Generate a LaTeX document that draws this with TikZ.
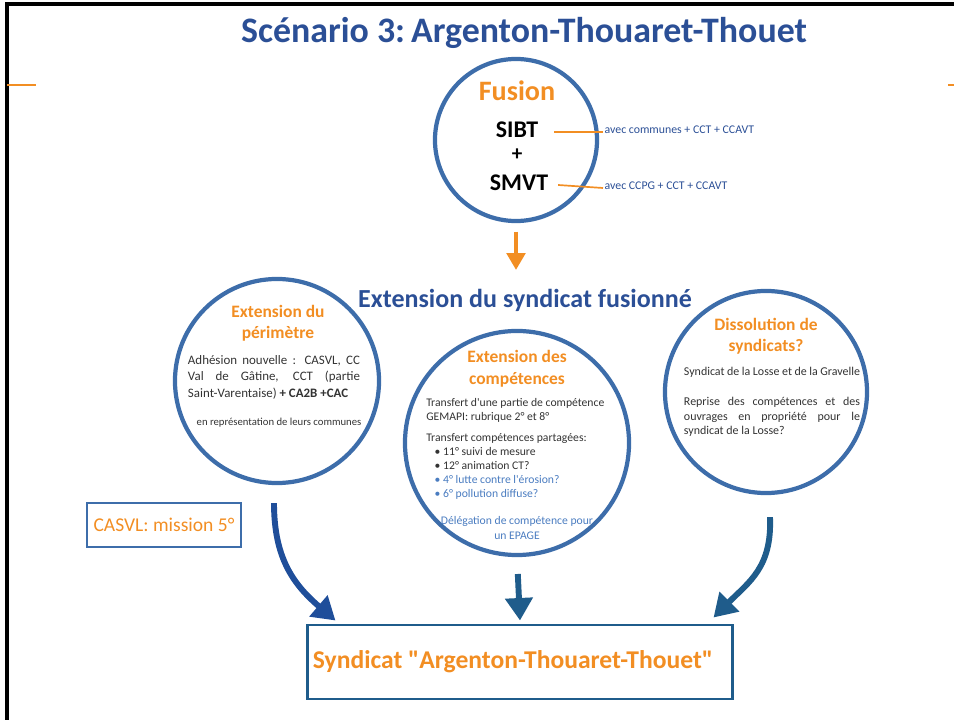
\documentclass[tikz,border=0pt]{standalone}
\usepackage{fontspec}
\setmainfont{Carlito}[Ligatures=TeXOff]
\usetikzlibrary{positioning,calc,arrows.meta}
\definecolor{bleutitre}{HTML}{2B4F96}
\definecolor{bleucercle}{HTML}{3D6DAA}
\definecolor{bleufleche}{HTML}{1F4E9A}
\definecolor{bleufonce}{HTML}{1F5C8B}
\definecolor{bleutexte}{HTML}{4A7CC0}
\definecolor{orangefus}{HTML}{F28E23}
\definecolor{gristexte}{HTML}{333333}

\begin{document}
\begin{tikzpicture}[x=0.025cm,y=-0.025cm,
    cercle/.style={circle,draw=bleucercle,line width=3pt,inner sep=0pt},
    entete/.style={text=orangefus,font=\bfseries\fontsize{12.4}{15}\selectfont,align=center},
    texte/.style={text=gristexte,inner sep=0pt},
    note/.style={text=bleutitre,font=\fontsize{8.4}{9}\selectfont,anchor=west,inner sep=1pt},
    trait/.style={draw=orangefus,line width=1.2pt},
    fleche/.style={line width=4.2pt,-{Triangle[length=16pt,width=19pt]}}
    ]
\useasboundingbox (0,0) rectangle (954,720);
% cadre de la page
\draw[line width=2.2pt] (7,722) -- (7,4) -- (956,4);
\draw[trait] (7,85) -- (36,85);
\draw[trait] (948,85) -- (956,85);

% titres
\node (titre) at (524,33) {\color{bleutitre}\bfseries\fontsize{25.5}{28}\selectfont Scénario 3:\,Argenton-Thouaret-Thouet};
\node (soustitre) at (525,300) {\color{bleutitre}\bfseries\fontsize{18.5}{21}\selectfont Extension du syndicat fusionné};

% fusion
\node[cercle,minimum size=4.05cm] (fusion) at (516,140) {};
\node[text=orangefus,font=\bfseries\fontsize{20}{22}\selectfont] (fusionhead) at (517,91) {Fusion};
\node[font=\bfseries\fontsize{17}{20}\selectfont] (sibt) at (517,130) {SIBT};
\node[font=\bfseries\fontsize{15}{18}\selectfont] (plus) at (517,155) {+};
\node[font=\bfseries\fontsize{17}{20}\selectfont] (smvt) at (519,183) {SMVT};
\node[note] (sibtnote) at (603,130) {avec communes + CCT + CCAVT};
\node[note] (smvtnote) at (603,186) {avec CCPG + CCT + CCAVT};
\draw[trait] ($(sibt.east)+(11,2)$) -- ($(sibtnote.west)+(0,2)$);
\draw[trait] ($(smvt.east)+(5,2)$) -- ($(smvtnote.west)+(0,2)$);
\coordinate (fusiontip) at (516,270);
\draw[orangefus,line width=3.4pt,shorten <=6pt,-{Triangle[length=12pt,width=13pt]}] (fusion.south) -- (fusiontip);

% extension du perimetre
\node[cercle,minimum size=5.1cm] (perim) at (277,381) {};
\node[entete] (perimhead) at (278,323) {Extension du\\périmètre};
\node[texte,text width=4.3cm,align=justify,font=\fontsize{9.2}{11.7}\selectfont] (perimbody) at (274,377)
  {Adhésion nouvelle : CASVL, CC\linebreak Val de Gâtine, CCT (partie\linebreak Saint-Varentaise) \textbf{+ CA2B +CAC}};
\node[texte,font=\fontsize{7.6}{9}\selectfont] (perimnote) at (279,423) {en représentation de leurs communes};

% extension des competences
\node[cercle,minimum size=5.6cm] (compet) at (517,443) {};
\node[entete] (compethead) at (517,369) {Extension des\\[1pt]compétences};
\node[texte,anchor=north west,align=left,font=\fontsize{8.3}{10}\selectfont] (competbody) at (426,398)
  {Transfert d'une partie de compétence\\GEMAPI: rubrique 2° et 8°\\[5pt]
   Transfert compétences partagées:\\
   \hspace*{6pt}• 11° suivi de mesure\\
   \hspace*{6pt}• 12° animation CT?\\
   \hspace*{6pt}{\color{bleutexte}• 4° lutte contre l'érosion?}\\
   \hspace*{6pt}{\color{bleutexte}• 6° pollution diffuse?}};
\node[texte,text=bleutexte,align=center,font=\fontsize{8.3}{10.6}\selectfont] (delegation) at (517,528)
  {Délégation de compétence pour\\un EPAGE};

% dissolution
\node[cercle,minimum size=5.05cm] (dissol) at (766,392) {};
\node[entete] (dissolhead) at (766,336) {Dissolution de\\syndicats?};
\node[texte,text width=4.4cm,align=justify,font=\fontsize{8.5}{10.6}\selectfont] (dissolbody) at (772,402)
  {Syndicat de la Losse et de la Gravelle\par\vspace{10.6pt}
   Reprise des compétences et des\linebreak ouvrages en propriété pour le\linebreak syndicat de la Losse?};

% mission et syndicat final
\node[draw=bleucercle,line width=1.1pt,minimum width=3.85cm,minimum height=1.1cm,
  text=orangefus,font=\fontsize{13.9}{16}\selectfont] (casvl) at (164,525) {CASVL: mission 5°};
\node[draw=bleufonce,line width=2.1pt,minimum width=10.6cm,minimum height=1.85cm,
  text=orangefus,font=\bfseries\fontsize{18.2}{21}\selectfont] (final) at (520,662) {\hspace*{-10pt}Syndicat "Argenton-Thouaret-Thouet"};

% fleches vers le syndicat
\draw[fleche,bleufleche] ($(perim.south)+(-3,18)$) .. controls +(0,55) and +(-42,-36) .. ($(final.north west)+(29,-3)$);
\draw[fleche,bleufonce,shorten <=12pt] (compet.south) -- ($(final.north)+(0,-3)$);
\draw[fleche,bleufonce] ($(dissol.south)+(4,22)$) .. controls +(2,50) and +(36,-36) .. ($(final.north east)+(-20,-6)$);
\end{tikzpicture}
\end{document}
